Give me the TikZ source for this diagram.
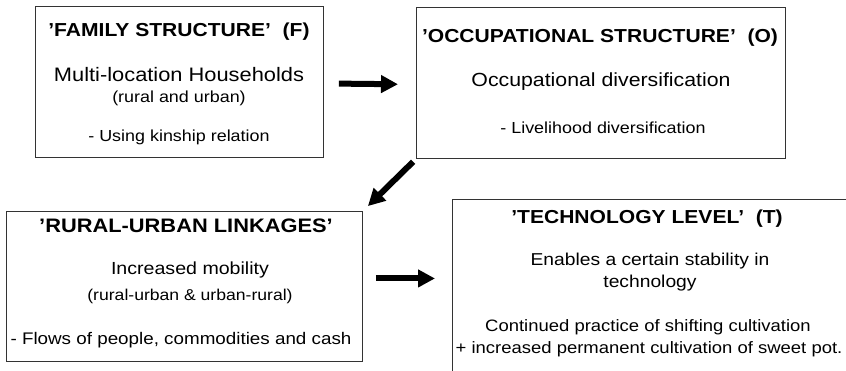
\documentclass[tikz,border=0pt]{standalone}
\usepackage{fontspec}
\setmainfont{Liberation Sans}[FakeStretch=1.12]
\usetikzlibrary{arrows.meta}
\tikzset{
  box/.style={draw=black!80, line width=0.9pt, inner sep=0pt, anchor=north west},
  ttl/.style={font=\fontsize{#1}{#1}\selectfont\bfseries, inner sep=0pt},
  txt/.style={font=\fontsize{#1}{#1}\selectfont, inner sep=0pt},
  bigarrow/.style={line width=6pt, -{Triangle[length=17pt,width=17pt]}}
}
\begin{document}
\begin{tikzpicture}[x=1pt,y=-1pt]
\useasboundingbox (0,0) rectangle (846,370);
% boxes
\node[box, minimum width=288pt, minimum height=151pt] (F) at (35,6) {};
\node[box, minimum width=369pt, minimum height=151pt] (O) at (416,7) {};
\node[box, minimum width=356pt, minimum height=150pt] (R) at (6,211) {};
\node[box, minimum width=398pt, minimum height=175pt] (T) at (452,199) {};
% F texts
\node[ttl=18.8] (F1) at (179,32) {'FAMILY STRUCTURE'\ \ (F)};
\node[txt=19.5] (F2) at (179,75) {Multi-location Households};
\node[txt=16] (F3) at (179,98) {(rural and urban)};
\node[txt=16] (F4) at (179,137) {- Using kinship relation};
% O texts
\node[ttl=18.8] (O1) at (600,38) {'OCCUPATIONAL STRUCTURE'\ \ (O)};
\node[txt=19] (O2) at (601,82) {Occupational diversification};
\node[txt=16] (O3) at (603,128) {- Livelihood diversification};
% R texts
\node[ttl=19.5] (R1) at (186,226) {'RURAL-URBAN LINKAGES'};
\node[txt=17.5] (R2) at (190,270) {Increased mobility};
\node[txt=15.7] (R3) at (190,296) {(rural-urban \& urban-rural)};
\node[txt=16.8] (R4) at (181,340) {- Flows of people, commodities and cash};
% T texts
\node[ttl=18.8] (T1) at (647,219) {'TECHNOLOGY LEVEL'\ \ (T)};
\node[txt=17.2] (T2) at (650,261) {Enables a certain stability in};
\node[txt=17.2] (T3) at (650,283) {technology};
\node[txt=16.5] (T4) at (648,327) {Continued practice of shifting cultivation};
\node[txt=16.5] (T5) at (649,349) {+ increased permanent cultivation of sweet pot.};
% arrows
\draw[bigarrow, shorten <=15pt, shorten >=18pt] ([yshift=-1.5pt]F.east) -- ([yshift=-1.5pt]O.west);
\draw[bigarrow, shorten <=4pt, shorten >=7pt] (O.south west) -- (R.north east);
\draw[bigarrow, shorten <=13pt, shorten >=17pt] ([yshift=8pt]R.east) -- ([yshift=8.5pt]T.west);
\end{tikzpicture}
\end{document}
